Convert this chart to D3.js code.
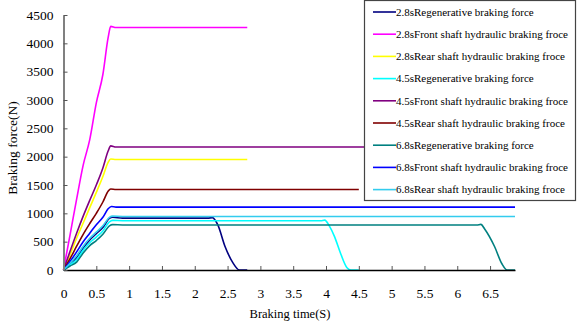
<!DOCTYPE html>
<html>
<head>
  <script src="https://d3js.org/d3.v7.min.js"></script>
  <meta charset="utf-8">
  <style>
    body {margin: 0; background: #fff;}
    svg text {font-family: "Liberation Serif", "Times New Roman", serif !important;}
  </style>
</head>
<body>
<div id="chart"></div>
<script>
  /* Series data: time (s) and braking force (N) */
  const seriesNames = [
    "2.8sRegenerative braking force",
    "2.8sFront shaft hydraulic braking froce",
    "2.8sRear shaft hydraulic braking froce",
    "4.5sRegenerative braking force",
    "4.5sFront shaft hydraulic braking froce",
    "4.5sRear shaft hydraulic braking froce",
    "6.8sRegenerative braking force",
    "6.8sFront shaft hydraulic braking froce",
    "6.8sRear shaft hydraulic braking froce"
  ];
  const seriesColors = ["#000080", "#ff00ff", "#ffff00", "#00ffff", "#800080",
                        "#800000", "#008080", "#0000ff", "#33ccee"];

  const regen28 = [[0,0],[0.1,110],[0.2,220],[0.3,390],[0.4,530],[0.5,640],[0.6,750],[0.7,910],[0.75,930],[0.9,915],[2.2,915],[2.27,925],[2.35,800],[2.46,420],[2.58,130],[2.68,0],[2.8,0]];
  const front28 = [[0,0],[0.1,620],[0.2,1250],[0.3,1850],[0.4,2300],[0.5,2950],[0.6,3450],[0.68,4100],[0.72,4300],[0.8,4280],[2.8,4280]];
  const rear28  = [[0,0],[0.1,270],[0.2,560],[0.3,830],[0.4,1100],[0.5,1370],[0.6,1650],[0.68,1900],[0.72,1960],[0.8,1950],[2.8,1950]];
  const regen45 = [[0,0],[0.1,90],[0.2,180],[0.3,350],[0.4,480],[0.5,580],[0.6,690],[0.7,850],[0.75,875],[0.9,870],[3.92,870],[3.98,880],[4.05,780],[4.13,590],[4.22,300],[4.32,40],[4.38,0],[4.5,0]];
  const front45 = [[0,0],[0.1,330],[0.2,650],[0.3,950],[0.4,1230],[0.5,1500],[0.6,1800],[0.68,2100],[0.72,2190],[0.8,2170],[6.88,2170]];
  const rear45  = [[0,0],[0.1,200],[0.2,420],[0.3,630],[0.4,820],[0.5,1000],[0.6,1200],[0.68,1390],[0.72,1430],[0.8,1420],[4.5,1420]];
  const regen68 = [[0,0],[0.1,70],[0.2,140],[0.3,300],[0.4,430],[0.5,520],[0.6,630],[0.7,780],[0.75,800],[0.9,795],[6.3,795],[6.36,805],[6.42,720],[6.57,410],[6.68,110],[6.76,0],[6.88,0]];
  const front68 = [[0,0],[0.1,150],[0.2,320],[0.3,500],[0.4,650],[0.5,800],[0.6,930],[0.68,1080],[0.73,1120],[0.8,1110],[6.88,1110]];
  const rear68  = [[0,0],[0.1,120],[0.2,250],[0.3,420],[0.4,560],[0.5,670],[0.6,780],[0.7,930],[0.75,950],[0.9,945],[6.88,945]];

  const seriesData = [regen28, front28, rear28, regen45, front45, rear45, regen68, front68, rear68];
  const xTicks = [0, 0.5, 1, 1.5, 2, 2.5, 3, 3.5, 4, 4.5, 5, 5.5, 6, 6.5];
  const yTicks = [0, 500, 1000, 1500, 2000, 2500, 3000, 3500, 4000, 4500];

  const W = 585, H = 326;
  const svg = d3.select("#chart").append("svg")
                .attr("width", W).attr("height", H)
                .attr("font-family", "Liberation Serif");

  const x = d3.scaleLinear().domain([0, 6.88]).range([63.5, 515]);
  const y = d3.scaleLinear().domain([0, 4500]).range([270, 15]);

  /* Lines */
  const line = d3.line()
                 .x(d => x(d[0]))
                 .y(d => y(d[1]))
                 .curve(d3.curveMonotoneX);

  svg.append("g").selectAll("path")
     .data(seriesData)
     .enter()
     .append("path")
     .attr("d", d => line(d))
     .attr("fill", "none")
     .attr("stroke", (d, i) => seriesColors[i])
     .attr("stroke-width", 1.6);

  /* Axes */
  const xAxis = svg.append("g")
     .attr("transform", "translate(0,270)")
     .call(d3.axisBottom(x).tickValues(xTicks).tickFormat(d => String(d))
             .tickSize(-4).tickSizeOuter(0).tickPadding(18));
  xAxis.attr("font-family", null);
  xAxis.select(".domain").attr("stroke", "#000").attr("stroke-width", 1.5);
  xAxis.selectAll(".tick line").attr("stroke", "#555");
  xAxis.selectAll("text").attr("font-size", 13.5).attr("fill", "#000");

  const yAxis = svg.append("g")
     .attr("transform", "translate(63.5,0)")
     .call(d3.axisLeft(y).tickValues(yTicks).tickFormat(d => String(d))
             .tickSize(-4).tickSizeOuter(0).tickPadding(10));
  yAxis.attr("font-family", null);
  yAxis.select(".domain").attr("stroke", "#808080").attr("stroke-width", 2);
  yAxis.selectAll(".tick line").attr("stroke", "#555");
  yAxis.selectAll("text").attr("font-size", 13.5).attr("fill", "#000");

  /* Axis titles */
  svg.append("text")
     .attr("x", 290).attr("y", 318)
     .attr("text-anchor", "middle")
     .attr("font-size", 12.5)
     .text("Braking time(S)");

  svg.append("text")
     .attr("transform", "translate(17,148) rotate(-90)")
     .attr("text-anchor", "middle")
     .attr("font-size", 13.5)
     .text("Braking force(N)");

  /* Legend */
  const legend = svg.append("g");
  legend.append("rect")
        .attr("x", 364.5).attr("y", 0.5)
        .attr("width", 211).attr("height", 200)
        .attr("fill", "#fff")
        .attr("stroke", "#444").attr("stroke-width", 1.2);

  const rows = legend.selectAll("g.row")
        .data(seriesNames)
        .enter()
        .append("g")
        .attr("class", "row")
        .attr("transform", (d, i) => `translate(373,${12 + i * 22.2})`);

  rows.append("line")
      .attr("x1", 0).attr("x2", 23)
      .attr("stroke", (d, i) => seriesColors[i])
      .attr("stroke-width", 1.6);

  rows.append("text")
      .attr("x", 23).attr("dy", "0.35em")
      .attr("font-size", 11)
      .text(d => d);
</script>
</body>
</html>
